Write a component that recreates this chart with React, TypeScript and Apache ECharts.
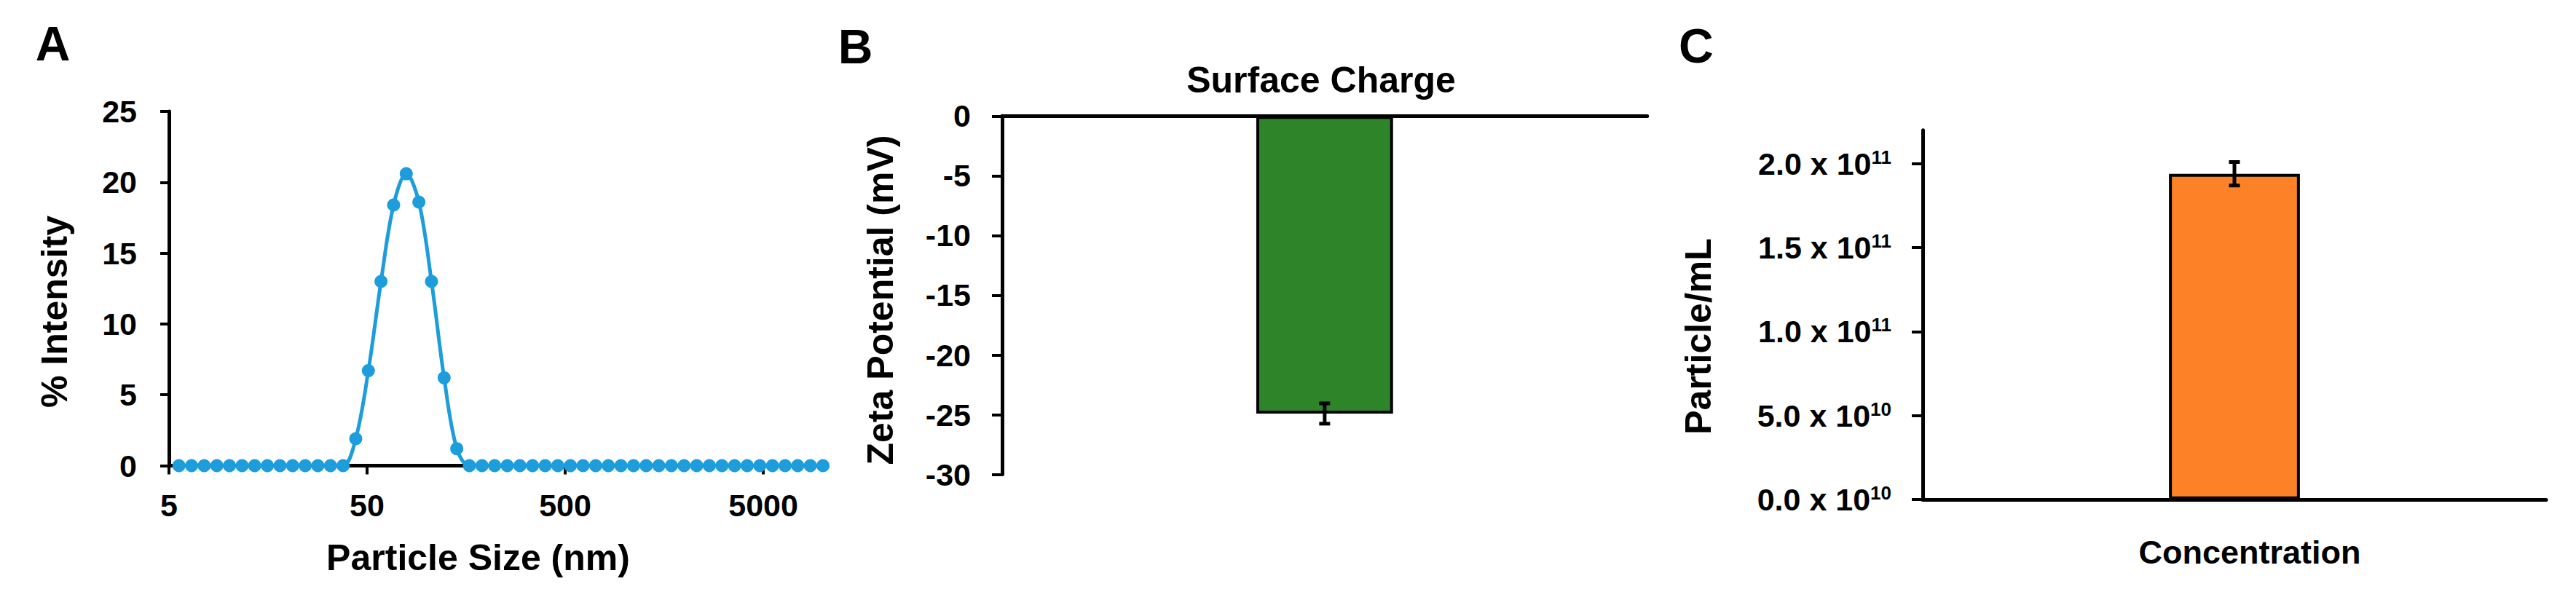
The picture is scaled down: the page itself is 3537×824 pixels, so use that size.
import React, { useEffect, useRef } from 'react';
import * as echarts from 'echarts';

// ---------- Panel A: size distribution ----------
const sizeNm = [
  5.615, 6.503, 7.531, 8.721, 10.1, 11.7, 13.54, 15.69, 18.17, 21.04, 24.36, 28.21, 32.67, 37.84,
  43.82, 50.75, 58.77, 68.06, 78.82, 91.28, 105.7, 122.4, 141.8,
  164.2, 190.1, 220.2, 255.0, 295.3, 342.0, 396.1, 458.7, 531.2, 615.1, 712.4, 825.0, 955.4,
  1106, 1281, 1484, 1718, 1990, 2305, 2669, 3091, 3580, 4145, 4801, 5560, 6439, 7456, 8635, 10000,
];
const intensityPct = [
  0, 0, 0, 0, 0, 0, 0, 0, 0, 0, 0, 0, 0, 0,
  1.9, 6.7, 13.0, 18.4, 20.6, 18.6, 13.0, 6.2, 1.2,
  0, 0, 0, 0, 0, 0, 0, 0, 0, 0, 0, 0, 0,
  0, 0, 0, 0, 0, 0, 0, 0, 0, 0, 0, 0, 0, 0, 0, 0,
];
const sizeTicks = [5, 50, 500, 5000];

// ---------- Panel B: zeta potential ----------
const zetaCategories = ['Surface Charge'];
const zetaMean = [-24.9];
const zetaErr = [0.85];

// ---------- Panel C: concentration ----------
const concCategories = ['Concentration'];
const concMean = [1.94e11];
const concErr = [0.07e11];
const concTicks = [0, 0.5e11, 1.0e11, 1.5e11, 2.0e11];

const FONT = "'Liberation Sans', Arial, Helvetica, sans-serif";
const BLUE = '#1D9DDC';
const GREEN = '#2E8429';
const ORANGE = '#FD8126';
const TICK_FS = 43;
const TITLE_FS = 50;

const lineStyle = { color: '#000', width: 5 };
const tickStyle = { color: '#000', width: 4 };
const labelBase = { color: '#000', fontSize: TICK_FS, fontWeight: 'bold' as const, fontFamily: FONT };

function errRender(params: any, api: any) {
  const cat = api.value(0);
  const lo = api.value(1);
  const hi = api.value(2);
  const top = api.coord([cat, hi]);
  const bot = api.coord([cat, lo]);
  const w = 7.5;
  const style = { stroke: '#000', lineWidth: 5 };
  return {
    type: 'group',
    children: [
      { type: 'line', shape: { x1: top[0], y1: top[1], x2: bot[0], y2: bot[1] }, style },
      { type: 'line', shape: { x1: top[0] - w, y1: top[1], x2: top[0] + w, y2: top[1] }, style },
      { type: 'line', shape: { x1: bot[0] - w, y1: bot[1], x2: bot[0] + w, y2: bot[1] }, style },
    ],
  };
}

function sciLabel(v: number) {
  if (Math.abs(v) < 1) return '{b|0.0 x 10}{s|10}';
  const useExp = v < 1e11 ? 10 : 11;
  const mant = v / Math.pow(10, useExp);
  return `{b|${mant.toFixed(1)} x 10}{s|${useExp}}`;
}

function textEl(text: string, x: number, y: number, fontSize: number, rotation = 0) {
  return {
    type: 'text',
    x,
    y,
    rotation,
    style: {
      text,
      fill: '#000',
      fontSize,
      fontWeight: 'bold',
      fontFamily: FONT,
      align: 'center',
      verticalAlign: 'middle',
    },
  };
}

export default function App() {
  const ref = useRef<HTMLDivElement>(null);

  useEffect(() => {
    if (!ref.current) return;
    const chart = echarts.init(ref.current, null, { renderer: 'svg' });
    const option: any = {
      animation: false,
      backgroundColor: '#fff',
      grid: [
        { left: 232, top: 153, width: 898, height: 486.5 },
        { left: 1376, top: 159.3, width: 885.7, height: 492.3 },
        { left: 2640, top: 178.7, width: 856, height: 507.1 },
      ],
      xAxis: [
        {
          gridIndex: 0,
          type: 'log',
          logBase: 10,
          min: 5,
          max: 10000,
          axisLine: { show: true, onZero: false, lineStyle },
          axisTick: { show: true, length: 12, lineStyle: tickStyle, customValues: sizeTicks },
          axisLabel: {
            ...labelBase,
            margin: 33,
            customValues: sizeTicks,
            formatter: (v: number) => String(Math.round(v)),
          },
          splitLine: { show: false },
          minorTick: { show: false },
          minorSplitLine: { show: false },
        },
        {
          gridIndex: 1,
          type: 'category',
          data: zetaCategories,
          axisLine: { show: true, onZero: true, lineStyle },
          axisTick: { show: false },
          axisLabel: { show: false },
          splitLine: { show: false },
        },
        {
          gridIndex: 2,
          type: 'category',
          data: concCategories,
          axisLine: { show: true, lineStyle },
          axisTick: { show: false },
          axisLabel: { ...labelBase, fontSize: 45, margin: 50, padding: [0, 0, 0, 42] },
          splitLine: { show: false },
        },
      ],
      yAxis: [
        {
          gridIndex: 0,
          type: 'value',
          min: 0,
          max: 25,
          interval: 5,
          axisLine: { show: true, lineStyle },
          axisTick: { show: true, length: 12, lineStyle: tickStyle },
          axisLabel: { ...labelBase, margin: 44 },
          splitLine: { show: false },
        },
        {
          gridIndex: 1,
          type: 'value',
          min: -30,
          max: 0,
          interval: 5,
          axisLine: { show: true, lineStyle },
          axisTick: { show: true, length: 14, lineStyle: tickStyle },
          axisLabel: { ...labelBase, margin: 43 },
          splitLine: { show: false },
        },
        {
          gridIndex: 2,
          type: 'value',
          min: 0,
          max: 2.2e11,
          interval: 0.5e11,
          axisLine: { show: true, lineStyle },
          axisTick: { show: true, length: 15, lineStyle: tickStyle, customValues: concTicks },
          axisLabel: {
            margin: 43,
            customValues: concTicks,
            formatter: (v: number) => sciLabel(v),
            rich: {
              b: { ...labelBase, lineHeight: 44 },
              s: { ...labelBase, fontSize: 26, verticalAlign: 'top', lineHeight: 44 },
            },
          },
          splitLine: { show: false },
        },
      ],
      series: [
        {
          type: 'line',
          xAxisIndex: 0,
          yAxisIndex: 0,
          data: sizeNm.map((s, i) => [s, intensityPct[i]]),
          smooth: 0.35,
          symbol: 'circle',
          symbolSize: 18,
          showAllSymbol: true,
          lineStyle: { color: BLUE, width: 5 },
          itemStyle: { color: BLUE },
          z: 5,
        },
        {
          type: 'bar',
          xAxisIndex: 1,
          yAxisIndex: 1,
          data: zetaMean,
          barWidth: '21.2%',
          itemStyle: { color: GREEN, borderColor: '#000', borderWidth: 4 },
        },
        {
          type: 'custom',
          xAxisIndex: 1,
          yAxisIndex: 1,
          data: zetaMean.map((m, i) => [i, m - zetaErr[i], m + zetaErr[i]]),
          renderItem: errRender,
          encode: { x: 0, y: [1, 2] },
          z: 10,
        },
        {
          type: 'bar',
          xAxisIndex: 2,
          yAxisIndex: 2,
          data: concMean,
          barWidth: '21%',
          itemStyle: { color: ORANGE, borderColor: '#000', borderWidth: 4 },
        },
        {
          type: 'custom',
          xAxisIndex: 2,
          yAxisIndex: 2,
          data: concMean.map((m, i) => [i, m - concErr[i], m + concErr[i]]),
          renderItem: errRender,
          encode: { x: 0, y: [1, 2] },
          z: 10,
        },
      ],
      graphic: [
        textEl('A', 72.5, 60, 66),
        textEl('B', 1174.6, 64, 66),
        textEl('C', 2328.8, 63, 66),
        textEl('% Intensity', 74.5, 428, TITLE_FS, Math.PI / 2),
        textEl('Particle Size (nm)', 656.5, 766, TITLE_FS),
        textEl('Surface Charge', 1814, 110, TITLE_FS),
        textEl('Zeta Potential (mV)', 1209, 412, TITLE_FS, Math.PI / 2),
        textEl('Particle/mL', 2332, 462, TITLE_FS, Math.PI / 2),
      ],
    };
    chart.setOption(option);
    return () => chart.dispose();
  }, []);

  return (
    <div
      ref={ref}
      style={{ position: 'absolute', left: 0, top: 0, width: 3537, height: 824, background: '#fff' }}
    />
  );
}
